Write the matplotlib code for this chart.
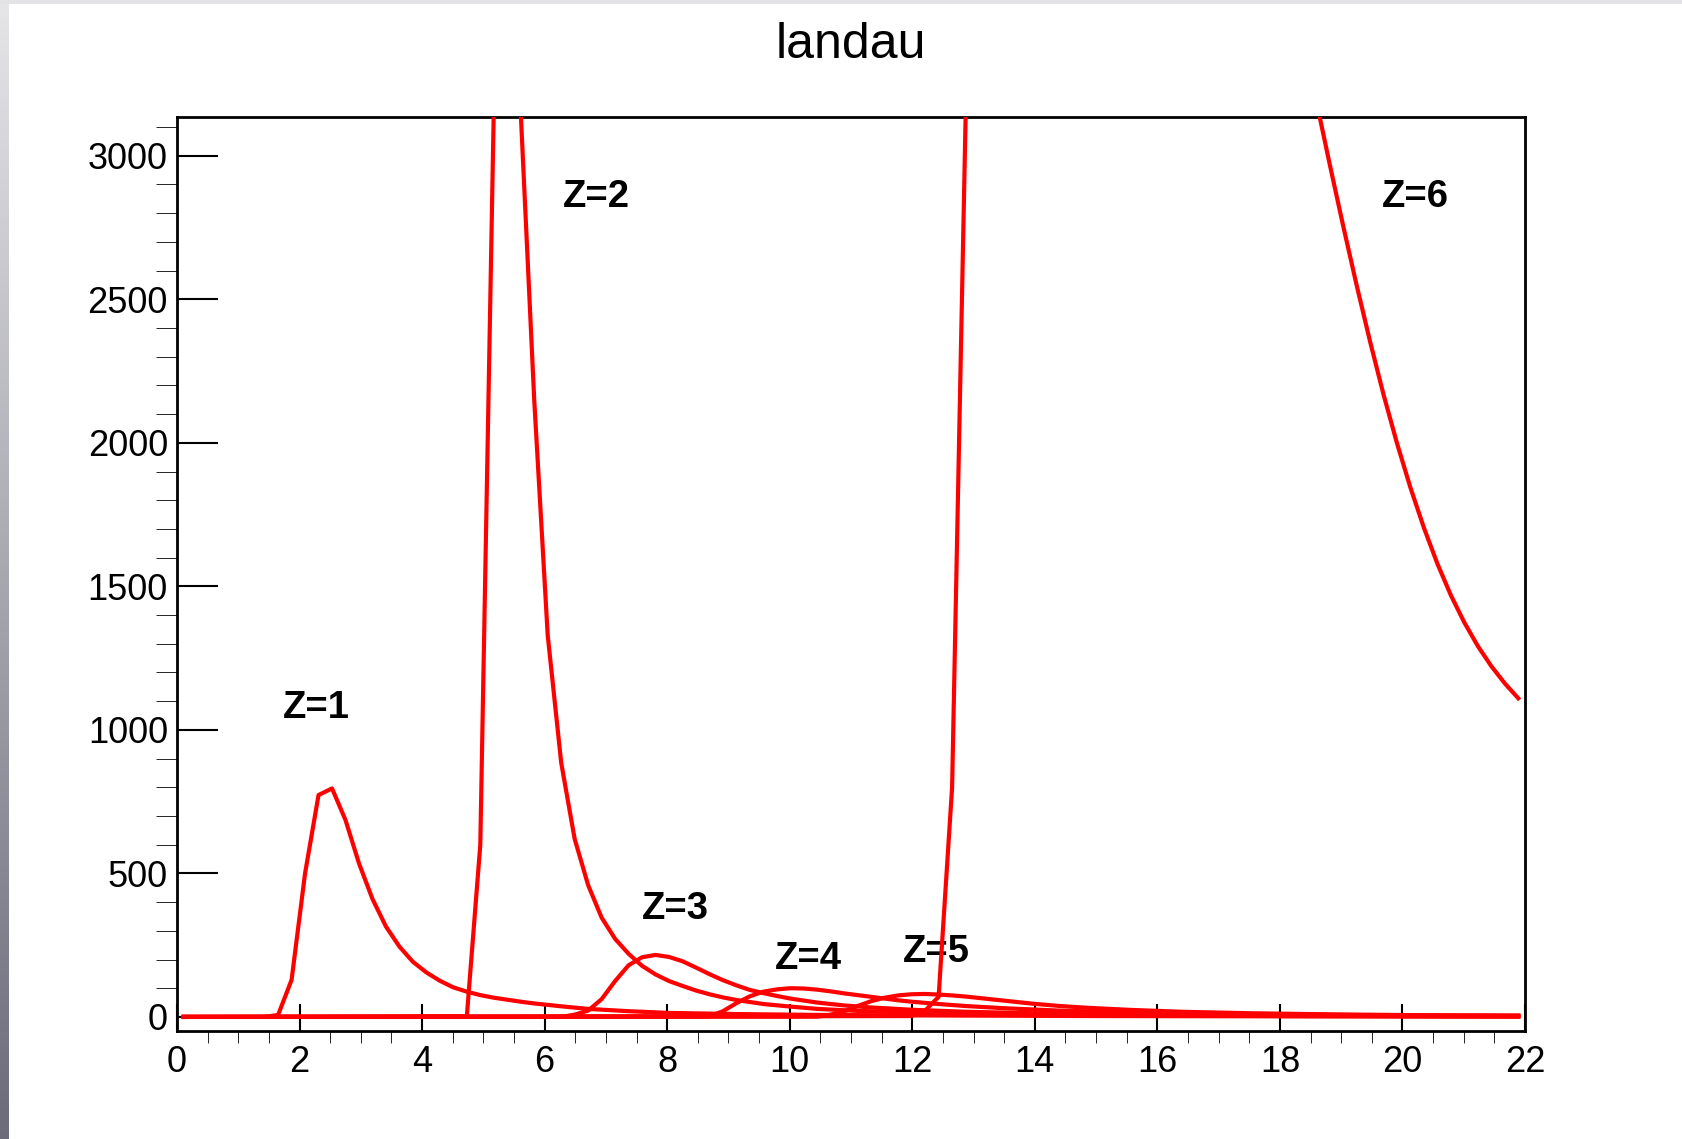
import matplotlib
matplotlib.use('Agg')
import numpy as np
import matplotlib.pyplot as plt
from matplotlib.ticker import MultipleLocator
from matplotlib.patches import Rectangle

plt.rcParams['font.family'] = ['Liberation Sans', 'DejaVu Sans']

# landau curves for Z=1..6, sampled on the function grid (step 0.22)
x_z1 = [0.11, 1.43, 1.65, 1.87, 2.09, 2.31, 2.53, 2.75, 2.97, 3.19, 3.41, 3.63, 3.85, 4.07, 4.29,
        4.51, 4.73, 4.95, 5.17, 5.39, 5.61, 5.83, 6.05, 6.27, 6.71, 7.37, 8.03, 9.13, 10.45, 12.43,
        15.07, 18.37, 21.89]
y_z1 = [0, 0, 7, 129, 500, 773, 796, 686, 535, 411, 315, 245, 192, 155, 126,
        103, 88, 76, 67, 60, 53, 47, 42, 37, 28, 20, 14, 10, 7, 5,
        3, 2, 1]

x_z2 = [0.11, 4.73, 4.95, 5.17, 5.39, 5.61, 5.83, 6.05, 6.27, 6.49, 6.71, 6.93, 7.15, 7.37, 7.59,
        7.81, 8.03, 8.25, 8.47, 8.69, 8.91, 9.13, 9.35, 9.57, 10.01, 10.45, 11.11, 12.21, 13.53, 15.51,
        18.15, 21.89]
y_z2 = [0, 2, 600, 3160, 4500, 3150, 2150, 1330, 886, 620, 459, 346, 272, 220, 178,
        148, 125, 108, 92, 79, 68, 59, 52, 45, 36, 28, 21, 14, 9, 6,
        3, 2]

x_z3 = [0.11, 6.27, 6.49, 6.71, 6.93, 7.15, 7.37, 7.59, 7.81, 8.03, 8.25, 8.47, 8.69, 8.91, 9.13,
        9.35, 9.57, 9.79, 10.01, 10.45, 10.89, 11.33, 11.99, 12.87, 13.97, 15.51, 17.49, 19.91, 21.89]
y_z3 = [0, 0, 8, 22, 62, 125, 180, 208, 216, 209, 194, 172, 149, 128, 110,
        94, 83, 73, 64, 50, 40, 33, 25, 18, 13, 8, 5, 3, 2]

x_z4 = [0.11, 8.69, 8.91, 9.13, 9.35, 9.57, 9.79, 10.01, 10.23, 10.45, 10.67, 10.89, 11.11, 11.33,
        11.55, 11.77, 11.99, 12.43, 12.87, 13.53, 14.41, 15.51, 16.83, 18.37, 20.13, 21.89]
y_z4 = [0, 2, 20, 48, 72, 88, 96, 100, 99, 95, 89, 82, 76, 70,
        64, 58, 53, 45, 38, 30, 22, 16, 11, 8, 5, 4]

x_z5 = [0.11, 10.45, 10.67, 10.89, 11.11, 11.33, 11.55, 11.77, 11.99, 12.21, 12.43, 12.65, 12.87,
        13.09, 13.31, 13.53, 13.97, 14.41, 14.85, 15.51, 16.39, 17.49, 18.81, 20.35, 21.89]
y_z5 = [0, 1, 8, 20, 38, 55, 67, 75, 79, 80, 78, 75, 71,
        66, 61, 56, 46, 38, 32, 25, 18, 13, 9, 6, 5]

x_z6 = [0.11, 11.99, 12.21, 12.43, 12.65, 12.87, 13.09, 15.07, 18.37, 18.59, 18.81, 19.03, 19.25,
        19.47, 19.69, 19.91, 20.13, 20.35, 20.57, 20.79, 21.01, 21.23, 21.45, 21.67, 21.89]
y_z6 = [0, 3, 22, 70, 800, 3130, 6500, 9000, 3450, 3195, 2973, 2758, 2551,
        2354, 2169, 1999, 1844, 1704, 1579, 1469, 1374, 1292, 1222, 1162, 1110]

curves = [(x_z1, y_z1), (x_z2, y_z2), (x_z3, y_z3), (x_z4, y_z4), (x_z5, y_z5), (x_z6, y_z6)]

labels = ['Z=1', 'Z=2', 'Z=3', 'Z=4', 'Z=5', 'Z=6']
label_x = [1.72, 6.30, 7.58, 9.75, 11.85, 19.66]
label_y = [1040, 2822, 342, 168, 192, 2822]

fig = plt.figure(figsize=(16.83, 11.39), dpi=100)
fig.patch.set_facecolor('white')

# window edge: grey strip on top, shaded strip on the left
fig.patches.append(Rectangle((0, 1 - 4 / 1139), 1, 4 / 1139, transform=fig.transFigure,
                             facecolor='#e3e3e5', edgecolor='none', zorder=0))
edge = fig.add_axes([0, 0, 9 / 1683, 1])
shade = np.linspace(0, 1, 256).reshape(-1, 1)
top_c = np.array([0.90, 0.90, 0.91])
bot_c = np.array([0.42, 0.42, 0.48])
edge.imshow(top_c + shade[:, :, None] * (bot_c - top_c), aspect='auto', extent=[0, 1, 0, 1])
edge.set_axis_off()

ax = fig.add_axes([177 / 1683, 1 - 1031 / 1139, (1525 - 177) / 1683, (1031 - 117) / 1139])

for xs, ys in curves:
    ax.plot(xs, ys, color='#ff0000', lw=3, zorder=3)

for t, tx, ty in zip(labels, label_x, label_y):
    ax.text(tx, ty, t, fontsize=27.5, fontweight='bold', ha='left', va='baseline', zorder=2)

ax.set_xlim(0, 22)
ax.set_ylim(-49, 3135)

ax.xaxis.set_major_locator(MultipleLocator(2))
ax.xaxis.set_minor_locator(MultipleLocator(0.5))
ax.yaxis.set_major_locator(MultipleLocator(500))
ax.yaxis.set_minor_locator(MultipleLocator(100))

ax.tick_params(axis='both', direction='in', top=False, right=False, labelsize=26,
               width=1.5, color='black')
ax.tick_params(axis='x', which='major', length=19.5, pad=10)
ax.tick_params(axis='x', which='minor', length=8.6)
ax.tick_params(axis='y', which='major', length=29.5, pad=6.5)
ax.tick_params(axis='y', which='minor', length=15)

for sp in ax.spines.values():
    sp.set_linewidth(2)

fig.text(851 / 1683, 1 - 58 / 1139, 'landau', fontsize=36, ha='center', va='baseline')

fig.savefig('out.png', dpi=100)
